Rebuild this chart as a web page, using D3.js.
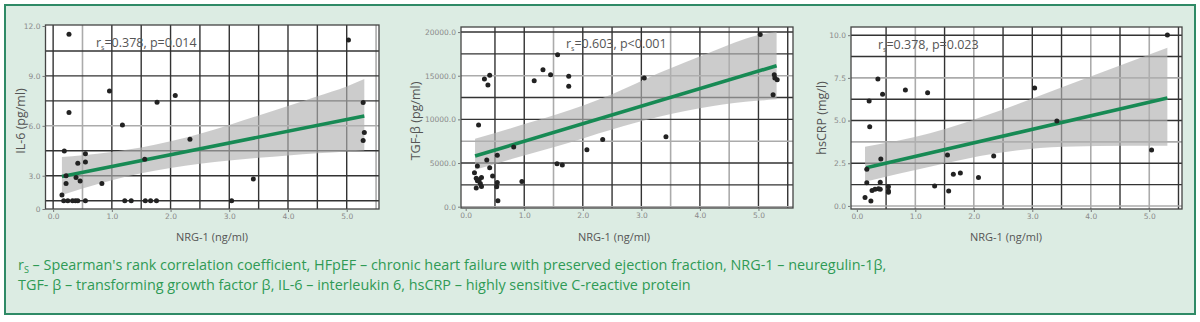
<!DOCTYPE html>
<html><head><meta charset="utf-8">
<script src="https://cdn.jsdelivr.net/npm/d3@7/dist/d3.min.js"></script>
<style>body{margin:0;background:#fff}</style>
</head><body><svg id="c" width="1200" height="322"></svg>
<script>
// ---------- DATA ----------
const nrgTicks = [0, 1, 2, 3, 4, 5];

// Panel 1: IL-6
const il6X = [0.27,5.03,0.27,0.96,2.08,1.77,5.28,1.18,5.30,5.28,2.33,0.19,0.55,0.55,0.42,1.56,0.22,0.39,0.46,0.22,0.83,3.41,0.15,
              0.18,0.25,0.33,0.38,0.42,0.55,1.22,1.33,1.57,1.66,1.76,3.04];
const il6Y = [11.5,11.16,6.8,8.1,7.82,7.42,7.4,6.05,5.6,5.12,5.19,4.49,4.32,3.82,3.75,3.99,3.0,2.9,2.68,2.54,2.54,2.8,1.84,
              1.5,1.5,1.5,1.5,1.5,1.5,1.5,1.5,1.5,1.5,1.5,1.5];
const il6FitX = [0.15, 5.30];
const il6FitY = [2.96, 6.59];
const il6BandX = [0.15,0.5,1.0,1.5,2.0,2.5,3.0,3.5,4.0,4.5,5.0,5.3];
const il6BandHi = [4.12,4.23,4.43,4.69,5.07,5.52,6.05,6.62,7.19,7.78,8.37,8.82];
const il6BandLo = [1.84,2.23,2.73,3.15,3.47,3.72,3.92,4.08,4.22,4.35,4.46,4.52];
const il6Ticks = [1.0, 3, 6, 9, 12];
const il6TickLabels = ["0", "3.0", "6.0", "9.0", "12.0"];

// Panel 2: TGF-beta
const tgfX = [5.03,1.57,1.32,1.45,1.76,1.76,1.17,0.41,0.32,0.38,3.05,5.27,5.28,5.32,5.25,0.22,0.82,2.34,3.42,2.07,1.56,1.65,0.36,0.20,0.54,0.41,0.15,0.46,0.18,0.23,0.27,0.20,0.25,0.18,0.27,0.54,0.53,0.96,0.55];
const tgfY = [19730,17390,15690,15120,14930,13780,14420,15050,14620,13930,14740,15120,14740,14540,12810,9350,6850,7700,8010,6510,4930,4780,5350,4660,5880,4470,3890,3510,3270,3080,3350,2960,2650,2150,2310,2770,2270,2880,690];
const tgfFitX = [0.16, 5.31];
const tgfFitY = [5800, 16150];
const tgfBandX = [0.16,0.8,1.56,2.5,3.3,4.2,4.97,5.31];
const tgfBandHi = [7780,9050,10580,12890,15300,17750,19620,20000];
const tgfBandLo = [4230,5500,6920,8850,10300,11500,12120,12310];
const tgfTicks = [0, 5000, 10000, 15000, 20000];

// Panel 3: hsCRP
const crpX = [5.31,0.36,0.83,1.21,0.44,3.04,0.21,0.22,3.42,0.41,1.55,2.34,5.04,0.17,1.65,1.77,2.08,0.17,0.40,1.33,0.54,0.54,0.54,1.57,0.26,0.31,0.37,0.40,0.14,0.24];
const crpY = [10.01,7.44,6.79,6.63,6.54,6.91,6.15,4.64,4.98,2.75,2.99,2.93,3.28,2.15,1.86,1.93,1.66,1.36,1.39,1.17,1.13,0.80,0.87,0.88,0.90,0.98,1.01,0.98,0.49,0.29];
const crpFitX = [0.16, 5.31];
const crpFitY = [2.24, 6.32];
const crpBandX = [0.14,1.25,2.39,3.53,4.67,5.31];
const crpBandHi = [3.47,4.26,5.52,6.98,8.45,9.27];
const crpBandLo = [1.42,2.30,3.09,3.47,3.53,3.53];
const crpTicks = [0, 2.5, 5, 7.5, 10];

const statLabels = [["0.378", "0.014", "="], ["0.603", "0.001", "<"], ["0.378", "0.023", "="]];
const yTitles = ["IL-6 (pg/ml)", "TGF-β (pg/ml)", "hsCRP (mg/l)"];
const xTitle = "NRG-1 (ng/ml)";

// ---------- LAYOUT / STYLE ----------
const panels = [
  { X: il6X, Y: il6Y, fx: il6FitX, fy: il6FitY, bx: il6BandX, bh: il6BandHi, bl: il6BandLo,
    xd: [-0.13, 5.55], xr: [45.5, 379], yd: [1.0, 12.06], yr: [209, 25],
    yt: il6Ticks, yfmt: (d, i) => il6TickLabels[i],
    vGrid: [[0,1],[0.5,0],[1,1],[1.5,1],[2,1],[2.5,1],[3,1],[3.5,1],[4,1],[4.5,1],[5,1],[5.5,0]],
    hGrid: [[1.5,1],[3,1],[4.5,1],[6,0],[7.5,1],[9,1],[10.5,1]],
    statX: 96, statY: 47, titleX: 22, titleY: 121, xTitleX: 212 },
  { X: tgfX, Y: tgfY, fx: tgfFitX, fy: tgfFitY, bx: tgfBandX, bh: tgfBandHi, bl: tgfBandLo,
    xd: [-0.08, 5.59], xr: [461, 793], yd: [-150, 20580], yr: [208, 27],
    yt: tgfTicks, yfmt: d3.format(".1f"),
    vGrid: [[0.5,1],[1,1],[1.5,0],[2,1],[2.5,1],[3,1],[3.5,0],[4,1],[4.5,0],[5,1],[5.5,1]],
    hGrid: [[0,0],[2500,1],[5000,1],[7500,0],[10000,1],[12500,1],[15000,0],[17500,1],[20000,1]],
    statX: 566, statY: 48, titleX: 417, titleY: 121, xTitleX: 614 },
  { X: crpX, Y: crpY, fx: crpFitX, fy: crpFitY, bx: crpBandX, bh: crpBandHi, bl: crpBandLo,
    xd: [-0.1, 5.56], xr: [851, 1182], yd: [-0.18, 10.48], yr: [209, 27],
    yt: crpTicks, yfmt: d3.format(".1f"),
    vGrid: [[0.5,1],[1,0],[1.5,1],[2,0],[2.5,1],[3,1],[3.5,1],[4,0],[4.5,1],[5,0],[5.5,1]],
    hGrid: [[0,0],[1.25,1],[2.5,1],[3.75,0],[5,1],[6.25,1],[7.5,0],[8.75,1],[10,1]],
    statX: 878, statY: 49, titleX: 823, titleY: 118, xTitleX: 1006 }
];

const svg = d3.select("#c");
svg.append("rect").attr("x", 5).attr("y", 5).attr("width", 1190).attr("height", 309)
  .attr("fill", "#dcece3").attr("stroke", "#2f8a66").attr("stroke-width", 2);

const narrow = "'Open Sans', sans-serif";

panels.forEach((p, k) => {
  const x = d3.scaleLinear().domain(p.xd).range(p.xr);
  const y = d3.scaleLinear().domain(p.yd).range(p.yr);
  const g = svg.append("g");
  const [x0, x1] = p.xr, [y0, y1] = p.yr;
  g.append("rect").attr("x", x0).attr("y", y1).attr("width", x1 - x0).attr("height", y0 - y1).attr("fill", "#fff");

  // grid
  g.selectAll(".vg").data(p.vGrid).join("line")
    .attr("x1", d => x(d[0])).attr("x2", d => x(d[0])).attr("y1", y1).attr("y2", y0)
    .attr("stroke", d => d[1] ? "#333" : "#ababab").attr("stroke-width", d => d[1] ? 1.4 : 1.6);
  g.selectAll(".hg").data(p.hGrid).join("line")
    .attr("y1", d => y(d[0])).attr("y2", d => y(d[0])).attr("x1", x0).attr("x2", x1)
    .attr("stroke", d => d[1] ? "#333" : "#ababab").attr("stroke-width", d => d[1] ? 1.4 : 1.6);

  // confidence band
  const band = p.bx.map((v, i) => [v, p.bh[i], p.bl[i]]);
  g.append("path").datum(band)
    .attr("d", d3.area().x(d => x(d[0])).y0(d => y(d[2])).y1(d => y(d[1])).curve(d3.curveMonotoneX))
    .attr("fill", "#b0b0b0").attr("fill-opacity", 0.65);

  // fit line
  const fit = p.fx.map((v, i) => [v, p.fy[i]]);
  g.append("path").datum(fit).attr("d", d3.line().x(d => x(d[0])).y(d => y(d[1])))
    .attr("stroke", "#178a54").attr("stroke-width", 3.6).attr("fill", "none");

  // points
  g.selectAll(".pt").data(p.X.map((v, i) => [v, p.Y[i]])).join("circle")
    .attr("cx", d => x(d[0])).attr("cy", d => y(d[1])).attr("r", 2.5).attr("fill", "#222");

  // frame
  g.append("rect").attr("x", x0).attr("y", y1).attr("width", x1 - x0).attr("height", y0 - y1)
    .attr("fill", "none").attr("stroke", "#444").attr("stroke-width", 1.3);

  // axes
  const ax = g.append("g").attr("transform", `translate(0,${y0})`)
    .call(d3.axisBottom(x).tickValues(nrgTicks).tickFormat(d3.format(".1f")).tickSize(3).tickPadding(2));
  const ay = g.append("g").attr("transform", `translate(${x0},0)`)
    .call(d3.axisLeft(y).tickValues(p.yt).tickFormat(p.yfmt).tickSize(3).tickPadding(2));
  [ax, ay].forEach(a => {
    a.select(".domain").remove();
    a.selectAll("line").attr("stroke", "#777");
    a.selectAll("text").attr("fill", "#8a8a8a").style("font-size", "7.5px").style("font-family", "'DejaVu Sans', sans-serif");
  });

  // stat label
  const st = g.append("text").attr("x", p.statX).attr("y", p.statY).attr("fill", "#555")
    .style("font-family", "'Open Sans', sans-serif").style("font-size", "12.5px");
  st.append("tspan").text("r");
  st.append("tspan").text("s").attr("dy", 3).style("font-size", "7px");
  st.append("tspan").text(`=${statLabels[k][0]}, p${statLabels[k][2]}${statLabels[k][1]}`).attr("dy", -3);

  // titles
  g.append("text").attr("transform", `translate(${p.titleX},${p.titleY}) rotate(-90)`)
    .attr("text-anchor", "middle").attr("dominant-baseline", "middle").attr("fill", "#555")
    .style("font-family", "'Open Sans', sans-serif").style("font-size", "12.5px").text(yTitles[k]);
  g.append("text").attr("x", p.xTitleX).attr("y", 241).attr("text-anchor", "middle").attr("fill", "#555")
    .style("font-family", narrow).style("font-size", "11px").text(xTitle);
});

// footnote
const fn = svg.append("g").style("font-family", narrow).style("font-size", "14.4px").attr("fill", "#2f9a55");
const l1 = fn.append("text").attr("x", 18).attr("y", 270);
l1.append("tspan").text("r");
l1.append("tspan").text("S").attr("dy", 3).style("font-size", "9px");
l1.append("tspan").attr("dy", -3).text(" – Spearman's rank correlation coefficient, HFpEF – chronic heart failure with preserved ejection fraction, NRG-1 – neuregulin-1β,");
fn.append("text").attr("x", 18).attr("y", 290)
  .text("TGF- β – transforming growth factor β, IL-6 – interleukin 6, hsCRP – highly sensitive C-reactive protein");
</script>
</body></html>
